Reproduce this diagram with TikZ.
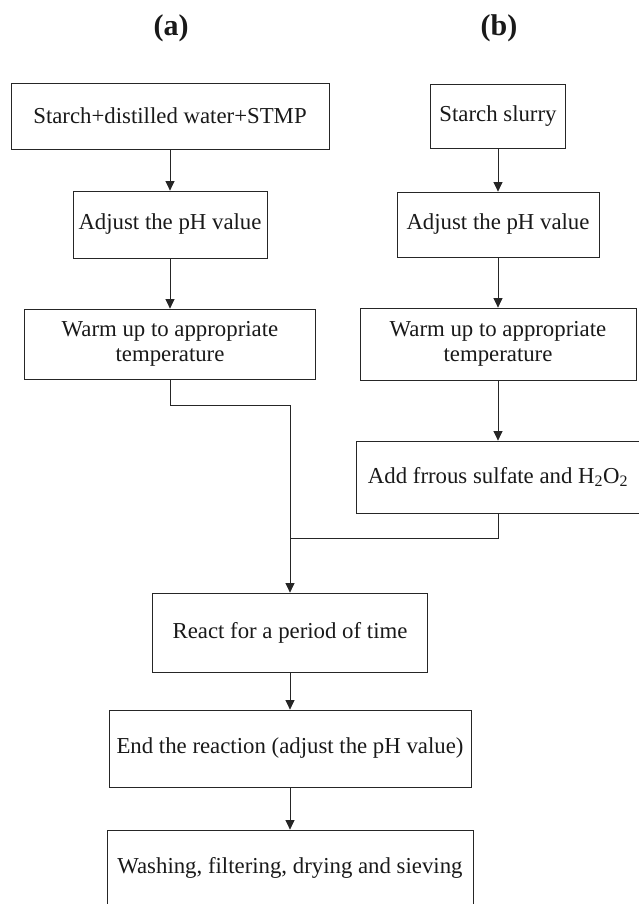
\documentclass[tikz,border=0pt]{standalone}
\usepackage{fontspec}
\setmainfont{Liberation Serif}
\usetikzlibrary{arrows.meta}
\begin{document}
\begin{tikzpicture}[x=1pt,y=-1pt,
  box/.style={draw=black!85, line width=0.8pt, rectangle, inner sep=0pt, align=center,
    font=\fontsize{22.8}{25}\selectfont, text=black!90},
  arr/.style={draw=black!85, line width=0.8pt, -{Triangle[length=9.5pt,width=9pt]}},
  lin/.style={draw=black!85, line width=0.8pt},
  lab/.style={font=\fontsize{30}{32}\selectfont\bfseries, text=black!90}]
\useasboundingbox (0,0) rectangle (639,904);
\clip (0,0) rectangle (639,904);
\node[lab] (la) at (171,28) {(a)};
\node[lab] (lb) at (499,28) {(b)};
\node[box, minimum width=318pt, minimum height=66pt] (a1) at (170,116) {Starch+distilled water+STMP};
\node[box, minimum width=194pt, minimum height=67pt] (a2) at (170,224.5) {Adjust the pH value};
\node[box, minimum width=291pt, minimum height=70pt] (a3) at (170,344) {Warm up to appropriate\\temperature};
\node[box, minimum width=135pt, minimum height=64pt] (b1) at (498,116) {Starch slurry};
\node[box, minimum width=202pt, minimum height=65pt] (b2) at (498,224.5) {Adjust the pH value};
\node[box, minimum width=276pt, minimum height=72pt] (b3) at (498,344) {Warm up to appropriate\\temperature};
\node[box, minimum width=284pt, minimum height=72pt] (b4) at (498,477) {Add frrous sulfate and H\textsubscript{2}O\textsubscript{2}};
\node[box, minimum width=275pt, minimum height=79pt] (r) at (290,632.5) {React for a period of time};
\node[box, minimum width=362pt, minimum height=77pt] (e) at (290,748.5) {End the reaction (adjust the pH value)};
\node[box, minimum width=366pt, minimum height=76pt] (w) at (290,868) {Washing, filtering, drying and sieving};
\coordinate (jb) at (290,538);
\draw[arr] (a1.south) -- (a2.north);
\draw[arr] (a2.south) -- (a3.north);
\draw[arr] (b1.south) -- (b2.north);
\draw[arr] (b2.south) -- (b3.north);
\draw[arr] (b3.south) -- (b4.north);
\draw[arr] (a3.south) -- ++(0,26) -| (r.north);
\draw[lin] (b4.south) |- (jb);
\draw[arr] (r.south) -- (e.north);
\draw[arr] (e.south) -- (w.north);
\end{tikzpicture}
\end{document}
